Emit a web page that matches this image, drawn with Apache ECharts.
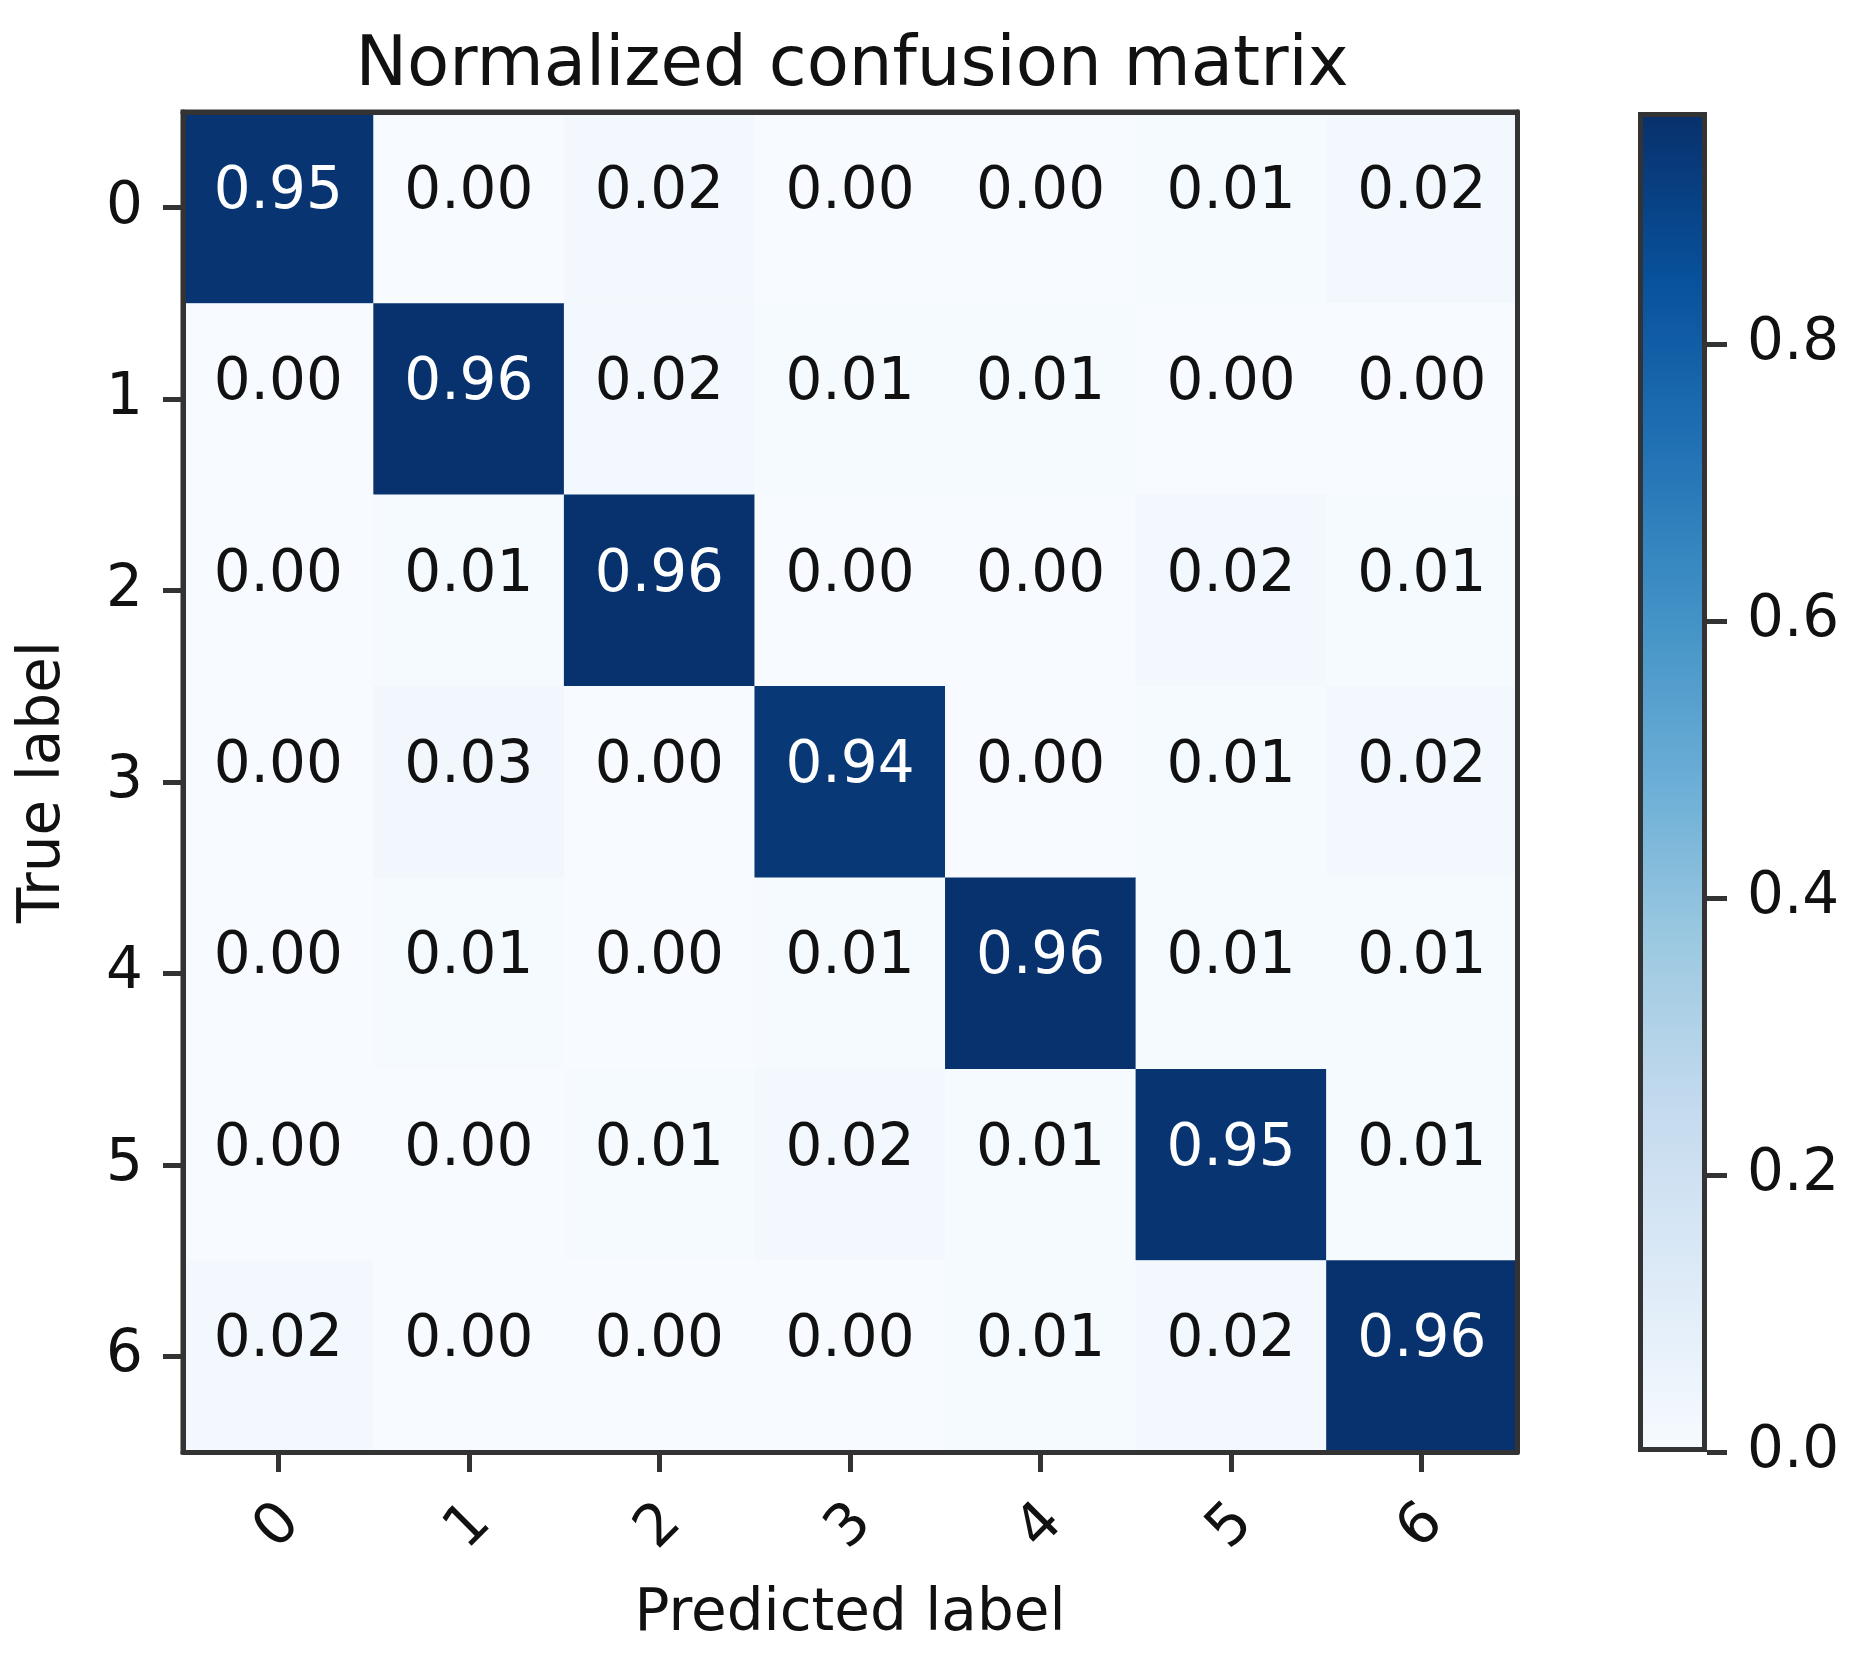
<!DOCTYPE html>
<html lang="en">
<head>
    <meta charset="UTF-8">
    <title>Normalized confusion matrix</title>
    <script src="https://cdn.jsdelivr.net/npm/echarts/dist/echarts.min.js"></script>
    <style>
        body {
            margin: 0;
            background: #fff;
        }
        #chart {
            width: 1864px;
            height: 1659px;
        }
    </style>
</head>
<body>
<div id="chart"></div>

<script>
    // class labels on both axes
    var classLabels = ['0', '1', '2', '3', '4', '5', '6'];

    // normalized confusion matrix, one array per true label
    var row0 = [0.95, 0.00, 0.02, 0.00, 0.00, 0.01, 0.02];
    var row1 = [0.00, 0.96, 0.02, 0.01, 0.01, 0.00, 0.00];
    var row2 = [0.00, 0.01, 0.96, 0.00, 0.00, 0.02, 0.01];
    var row3 = [0.00, 0.03, 0.00, 0.94, 0.00, 0.01, 0.02];
    var row4 = [0.00, 0.01, 0.00, 0.01, 0.96, 0.01, 0.01];
    var row5 = [0.00, 0.00, 0.01, 0.02, 0.01, 0.95, 0.01];
    var row6 = [0.02, 0.00, 0.00, 0.00, 0.01, 0.02, 0.96];
    var matrixRows = [row0, row1, row2, row3, row4, row5, row6];

    // colorbar range and ticks
    var colorMin = 0;
    var colorMax = 0.9675;
    var colorbarTicks = [0, 0.2, 0.4, 0.6, 0.8];

    // matplotlib "Blues"
    var blues = ['#f7fbff', '#deebf7', '#c6dbef', '#9ecae1', '#6baed6', '#4292c6', '#2171b5', '#08519c', '#08306b'];

    var font = "'DejaVu Sans', 'Liberation Sans', sans-serif";
    var frameColor = '#333';

    function buildCells() {
        var cells = [];
        var thresh = colorMax / 2;
        for (var i = 0; i < matrixRows.length; i++) {
            for (var j = 0; j < matrixRows[i].length; j++) {
                var v = matrixRows[i][j];
                cells.push({
                    value: [j, i, v],
                    label: {color: v > thresh ? '#ffffff' : '#111111'}
                });
            }
        }
        return cells;
    }

    function createChart() {
        var chart = echarts.init(document.getElementById('chart'), null, {renderer: 'canvas'});

        var stops = blues.map(function (c, k) {
            return {offset: k / (blues.length - 1), color: c};
        });

        var frameLine = {show: true, lineStyle: {color: frameColor, width: 5}};
        var tickStyle = {color: frameColor, width: 5};

        var options = {
            backgroundColor: '#ffffff',
            animation: false,
            title: {
                text: 'Normalized confusion matrix',
                left: 852,
                top: 33,
                padding: 0,
                textAlign: 'center',
                textStyle: {fontSize: 69, fontWeight: 'normal', color: '#111', fontFamily: font}
            },
            grid: [
                {left: 183, top: 112, width: 1334, height: 1340, show: true, borderColor: frameColor, borderWidth: 5},
                {left: 1638, top: 112, width: 69, height: 1340}
            ],
            visualMap: {
                show: false,
                seriesIndex: 0,
                dimension: 2,
                min: colorMin,
                max: colorMax,
                inRange: {color: blues}
            },
            xAxis: [
                {
                    gridIndex: 0,
                    type: 'category',
                    data: classLabels,
                    position: 'bottom',
                    z: 10,
                    axisLine: frameLine,
                    axisTick: {show: true, alignWithLabel: true, length: 20, lineStyle: tickStyle},
                    axisLabel: {
                        rotate: 45,
                        margin: 75,
                        align: 'center',
                        verticalAlign: 'middle',
                        fontSize: 58,
                        color: '#111',
                        fontFamily: font
                    },
                    splitLine: {show: false},
                    name: 'Predicted label',
                    nameLocation: 'middle',
                    nameGap: 134,
                    nameTextStyle: {fontSize: 58, color: '#111', fontFamily: font}
                },
                {
                    gridIndex: 0,
                    type: 'category',
                    data: classLabels,
                    position: 'top',
                    z: 10,
                    axisLine: frameLine,
                    axisTick: {show: false},
                    axisLabel: {show: false},
                    splitLine: {show: false}
                },
                {
                    gridIndex: 1,
                    type: 'category',
                    data: ['colorbar'],
                    show: false
                }
            ],
            yAxis: [
                {
                    gridIndex: 0,
                    type: 'category',
                    data: classLabels,
                    inverse: true,
                    position: 'left',
                    z: 10,
                    axisLine: frameLine,
                    axisTick: {show: true, alignWithLabel: true, length: 20, lineStyle: tickStyle},
                    axisLabel: {margin: 40, fontSize: 58, color: '#111', fontFamily: font},
                    splitLine: {show: false},
                    name: 'True label',
                    nameLocation: 'middle',
                    nameRotate: 90,
                    nameGap: 110,
                    nameTextStyle: {fontSize: 58, color: '#111', fontFamily: font}
                },
                {
                    gridIndex: 0,
                    type: 'category',
                    data: classLabels,
                    inverse: true,
                    position: 'right',
                    z: 10,
                    axisLine: frameLine,
                    axisTick: {show: false},
                    axisLabel: {show: false},
                    splitLine: {show: false}
                },
                {
                    gridIndex: 1,
                    type: 'value',
                    min: colorMin,
                    max: colorMax,
                    position: 'right',
                    z: 10,
                    axisLine: {show: false},
                    axisTick: {show: true, length: 20, customValues: colorbarTicks, lineStyle: tickStyle},
                    axisLabel: {
                        customValues: colorbarTicks,
                        margin: 40,
                        fontSize: 58,
                        color: '#111',
                        fontFamily: font,
                        formatter: function (v) { return v.toFixed(1); }
                    },
                    splitLine: {show: false}
                }
            ],
            series: [
                {
                    name: 'matrix',
                    type: 'heatmap',
                    xAxisIndex: 0,
                    yAxisIndex: 0,
                    data: buildCells(),
                    label: {
                        show: true,
                        fontSize: 58,
                        fontFamily: font,
                        offset: [0, -15],
                        formatter: function (p) { return p.value[2].toFixed(2); }
                    },
                    emphasis: {disabled: true}
                },
                {
                    name: 'colorbar',
                    type: 'bar',
                    xAxisIndex: 2,
                    yAxisIndex: 2,
                    data: [colorMax],
                    barWidth: '100%',
                    silent: true,
                    itemStyle: {
                        color: new echarts.graphic.LinearGradient(0, 1, 0, 0, stops),
                        borderColor: frameColor,
                        borderWidth: 5
                    }
                }
            ]
        };

        chart.setOption(options);
    }

    window.onload = function () {
        createChart();
    };
</script>
</body>
</html>
